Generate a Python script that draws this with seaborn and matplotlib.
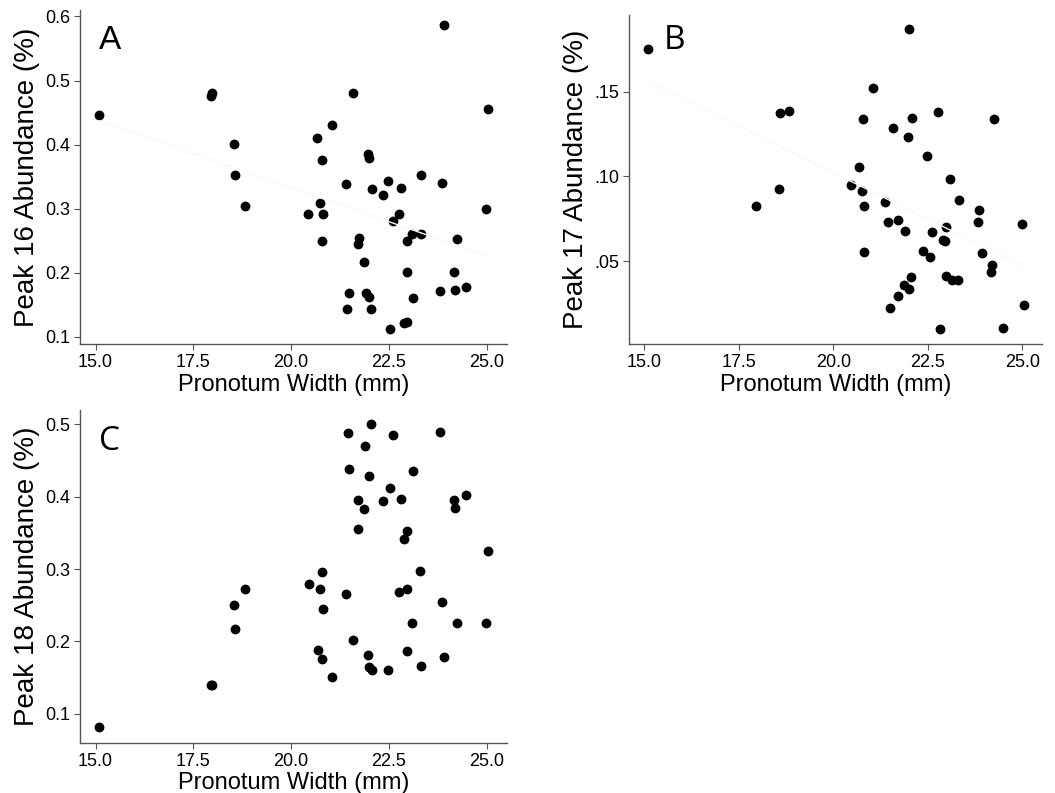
import matplotlib
matplotlib.use("Agg")
import matplotlib.pyplot as plt
import seaborn as sns
import pandas as pd

# Panel A: Peak 16
width_a = [15.09, 17.94, 17.98, 18.55, 18.57, 18.82, 20.44, 20.67, 20.74, 20.79,
           20.81, 20.79, 21.05, 21.39, 21.59, 21.44, 21.49, 21.73, 21.70, 21.87,
           21.91, 21.98, 22.04, 21.97, 22.00, 22.06, 22.34, 22.48, 22.61, 22.54,
           22.75, 22.81, 22.89, 22.96, 22.95, 22.97, 23.08, 23.12, 23.31, 23.32,
           23.81, 23.86, 23.90, 24.16, 24.19, 24.25, 24.47, 24.97, 25.03]
peak16 = [0.446, 0.476, 0.481, 0.401, 0.353, 0.304, 0.292, 0.411, 0.309, 0.376,
          0.292, 0.250, 0.430, 0.339, 0.481, 0.144, 0.168, 0.255, 0.245, 0.217,
          0.168, 0.163, 0.143, 0.386, 0.379, 0.330, 0.322, 0.344, 0.281, 0.112,
          0.292, 0.333, 0.121, 0.123, 0.250, 0.202, 0.261, 0.161, 0.352, 0.260,
          0.171, 0.340, 0.587, 0.202, 0.173, 0.253, 0.178, 0.299, 0.456]

# Panel B: Peak 17
width_b = [15.09, 22.01, 21.06, 18.58, 18.84, 20.79, 22.76, 22.07, 24.24, 21.59,
           21.98, 22.49, 20.68, 20.46, 20.77, 18.56, 17.97, 20.81, 21.38, 23.09,
           23.33, 23.86, 23.82, 21.45, 21.71, 21.90, 22.62, 22.99, 22.89, 22.96,
           24.98, 20.81, 22.36, 22.56, 23.92, 24.20, 24.18, 22.06, 22.98, 23.13,
           23.31, 21.87, 22.00, 21.72, 21.50, 25.05, 22.82, 24.48]
peak17 = [0.1749, 0.1867, 0.1522, 0.1371, 0.1388, 0.1339, 0.1378, 0.1345, 0.1339, 0.1284,
          0.1231, 0.1120, 0.1055, 0.0949, 0.0912, 0.0929, 0.0825, 0.0825, 0.0851, 0.0984,
          0.0863, 0.0802, 0.0733, 0.0735, 0.0741, 0.0678, 0.0671, 0.0700, 0.0625, 0.0618,
          0.0722, 0.0553, 0.0559, 0.0524, 0.0549, 0.0480, 0.0439, 0.0406, 0.0414, 0.0392,
          0.0392, 0.0359, 0.0335, 0.0294, 0.0225, 0.0241, 0.0102, 0.0108]

# Panel C: Peak 18
width_c = [15.09, 17.94, 17.98, 18.55, 18.57, 18.82, 20.45, 20.68, 20.75, 20.79,
           20.81, 20.79, 21.05, 21.39, 21.59, 21.45, 21.49, 21.71, 21.72, 21.87,
           21.90, 21.98, 22.04, 21.97, 21.99, 22.06, 22.34, 22.48, 22.54, 22.60,
           22.75, 22.81, 22.89, 22.97, 22.97, 22.95, 23.08, 23.12, 23.30, 23.31,
           23.81, 23.86, 23.90, 24.16, 24.19, 24.25, 24.47, 24.97, 25.03]
peak18 = [0.081, 0.139, 0.140, 0.250, 0.2165, 0.273, 0.280, 0.188, 0.272, 0.296,
          0.2445, 0.176, 0.151, 0.265, 0.2017, 0.4876, 0.439, 0.396, 0.3555, 0.383,
          0.470, 0.429, 0.500, 0.181, 0.165, 0.161, 0.3946, 0.161, 0.412, 0.4857,
          0.2685, 0.397, 0.342, 0.352, 0.272, 0.187, 0.225, 0.435, 0.298, 0.1654,
          0.490, 0.254, 0.178, 0.395, 0.385, 0.225, 0.403, 0.225, 0.3246]

x_ticks = [15.0, 17.5, 20.0, 22.5, 25.0]
x_labels = ["15.0", "17.5", "20.0", "22.5", "25.0"]
ticks_a = [0.1, 0.2, 0.3, 0.4, 0.5, 0.6]
labels_a = ["0.1", "0.2", "0.3", "0.4", "0.5", "0.6"]
ticks_b = [0.05, 0.10, 0.15]
labels_b = [".05", ".10", ".15"]
ticks_c = [0.1, 0.2, 0.3, 0.4, 0.5]
labels_c = ["0.1", "0.2", "0.3", "0.4", "0.5"]

sns.set_style("white")
plt.rcParams['font.family'] = ['Liberation Sans', 'DejaVu Sans']
plt.rcParams['text.color'] = 'black'
plt.rcParams['axes.labelcolor'] = 'black'

fig = plt.figure(figsize=(10.55, 7.93), dpi=100)
ax_a = fig.add_axes([0.0758, 0.5662, 0.4048, 0.4212])
ax_b = fig.add_axes([0.5962, 0.5662, 0.3915, 0.4148])
ax_c = fig.add_axes([0.0758, 0.0631, 0.4048, 0.4199])

panels = [
    (ax_a, width_a, peak16, "Peak 16 Abundance (%)", ticks_a, labels_a, (0.089, 0.610),
     "A", (0.07, 0.91), "Liberation Sans", True),
    (ax_b, width_b, peak17, "Peak 17 Abundance (%)", ticks_b, labels_b, (0.0014, 0.195),
     "B", (0.111, 0.924), "Open Sans", True),
    (ax_c, width_c, peak18, "Peak 18 Abundance (%)", ticks_c, labels_c, (0.0595, 0.520),
     "C", (0.07, 0.904), "Open Sans", False),
]

for ax, xs, ys, ylab, yt, ytl, ylim, letter, lpos, lfont, fit in panels:
    df = pd.DataFrame({"width": xs, "abund": ys})
    if fit:
        # faint fitted line, nearly invisible as in the original
        sns.regplot(data=df, x="width", y="abund", scatter=False, ci=None, ax=ax,
                    line_kws={"color": "#f8f8f8", "lw": 1})
    sns.scatterplot(data=df, x="width", y="abund", color="black", s=50,
                    edgecolor="black", linewidth=0, ax=ax)
    ax.set_xlim(14.6, 25.52)
    ax.set_ylim(*ylim)
    ax.set_xticks(x_ticks)
    ax.set_xticklabels(x_labels)
    ax.set_yticks(yt)
    ax.set_yticklabels(ytl)
    ax.set_xlabel("Pronotum Width (mm)", fontsize=17, labelpad=2)
    ax.set_ylabel(ylab, fontsize=20, labelpad=4)
    ax.tick_params(axis="both", labelsize=13, length=4, width=0.8, labelcolor="black",
                   color="#555555", direction="out", bottom=True, left=True, pad=3)
    sns.despine(ax=ax)
    for side in ["left", "bottom"]:
        ax.spines[side].set_color("#555555")
        ax.spines[side].set_linewidth(1.0)
    ax.text(lpos[0], lpos[1], letter, transform=ax.transAxes, fontsize=24,
            family=lfont, color="black", ha="center", va="center")

fig.savefig("out.png", dpi=100)
